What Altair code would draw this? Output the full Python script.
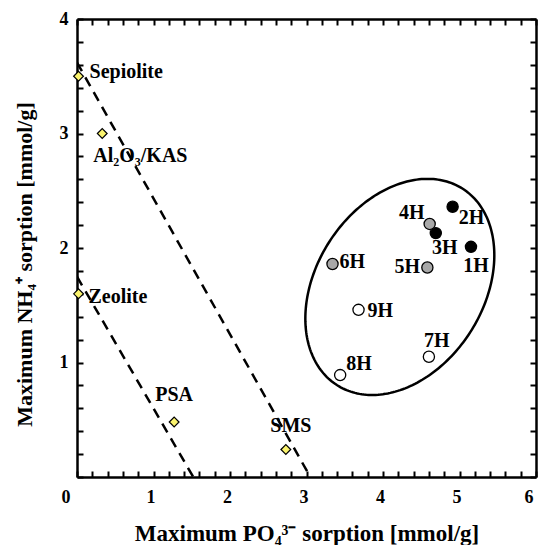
import altair as alt
import pandas as pd
import numpy as np

# ---- data ----
ref_names = ["Sepiolite", "Al₂O₃/KAS", "Zeolite", "PSA", "SMS"]
ref_po4 = [0.02, 0.33, 0.02, 1.27, 2.73]
ref_nh4 = [3.5, 3.0, 1.6, 0.48, 0.24]

h_names = ["1H", "2H", "3H", "4H", "5H", "6H", "7H", "8H", "9H"]
h_po4 = [5.15, 4.91, 4.69, 4.61, 4.58, 3.34, 4.60, 3.44, 3.68]
h_nh4 = [2.01, 2.36, 2.13, 2.21, 1.83, 1.86, 1.05, 0.89, 1.46]
h_group = ["black", "black", "black", "gray", "gray", "gray", "white", "white", "white"]

line_id = ["outer", "outer", "inner", "inner"]
line_po4 = [0.0, 3.05, 0.0, 1.52]
line_nh4 = [3.62, 0.0, 1.75, 0.0]

# ellipse outline: centre and two semi-axis vectors (data units)
ell_center = (4.22, 1.66)
ell_axis1 = (0.823, 0.857)
ell_axis2 = (-0.921, 0.395)

x_ticks = [round(0.2 * i, 1) for i in range(31)]
y_ticks = [round(0.2 * i, 1) for i in range(21)]

W, H = 459, 458

# ---- tables ----
ref_df = pd.DataFrame({"name": ref_names, "po4": ref_po4, "nh4": ref_nh4})
h_df = pd.DataFrame({"name": h_names, "po4": h_po4, "nh4": h_nh4, "group": h_group})
lines_df = pd.DataFrame({"id": line_id, "po4": line_po4, "nh4": line_nh4})
t = np.linspace(0, 2 * np.pi, 241)
ell_df = pd.DataFrame({
    "t": np.arange(len(t)),
    "po4": ell_center[0] + np.cos(t) * ell_axis1[0] + np.sin(t) * ell_axis2[0],
    "nh4": ell_center[1] + np.cos(t) * ell_axis1[1] + np.sin(t) * ell_axis2[1],
})
labels_df = pd.concat([ref_df[["name", "po4", "nh4"]], h_df[["name", "po4", "nh4"]]])

FONT = "Liberation Serif"
xscale = alt.Scale(domain=[0, 6], nice=False, zero=False)
yscale = alt.Scale(domain=[0, 4], nice=False, zero=False)

major = "abs(datum.value - round(datum.value)) < 0.01"

line_style = dict(grid=False, domainColor="black", domainWidth=2.5,
                  ticks=True, tickColor="black", tickWidth=2, tickSize={"expr": "-6"})
text_style = dict(
    labelFont=FONT, labelFontWeight="bold", labelFontSize=18, labelColor="black",
    titleFont=FONT, titleFontWeight="bold", titleColor="black",
)

x_bottom = alt.Axis(
    orient="bottom", values=x_ticks,
    labelExpr=f"{major} ? format(datum.value, 'd') : ''",
    labelOffset={"expr": "datum.value == 0 ? -16 : -3"},
    labelPadding=26, labelBaseline="middle",
    title="Maximum PO₄³⁻ sorption [mmol/g]", titlePadding=16, titleFontSize=23,
    **line_style, **text_style,
)
y_left = alt.Axis(
    orient="left", values=y_ticks,
    labelExpr=f"({major}) && datum.value > 0 ? format(datum.value, 'd') : ''",
    labelPadding=15,
    title="Maximum NH₄⁺ sorption [mmol/g]", titlePadding=23, titleY=245,
    titleFontSize=22,
    **line_style, **text_style,
)
x_top = alt.Axis(orient="top", values=x_ticks, labels=False, title=None, **line_style)
y_right = alt.Axis(orient="right", values=y_ticks, labels=False, title=None, **line_style)

frame_a = alt.Chart(ref_df).mark_point(opacity=0).encode(
    x=alt.X("po4:Q", scale=xscale, axis=x_bottom),
    y=alt.Y("nh4:Q", scale=yscale, axis=y_left),
)
frame_b = alt.Chart(ref_df).mark_point(opacity=0).encode(
    x=alt.X("po4:Q", scale=xscale, axis=x_top),
    y=alt.Y("nh4:Q", scale=yscale, axis=y_right),
)

ellipse = alt.Chart(ell_df).mark_line(color="black", strokeWidth=2.5).encode(
    x=alt.X("po4:Q", scale=xscale, axis=None),
    y=alt.Y("nh4:Q", scale=yscale, axis=None),
    order="t:Q",
)

dashed = alt.Chart(lines_df).mark_line(
    color="black", strokeWidth=2.5, strokeDash=[10, 7], clip=True
).encode(
    x=alt.X("po4:Q", scale=xscale, axis=None),
    y=alt.Y("nh4:Q", scale=yscale, axis=None),
    detail="id:N",
)

diamonds = alt.Chart(ref_df).mark_point(
    shape="diamond", filled=True, fill="#fbf46e", stroke="black",
    strokeWidth=1.2, size=95, opacity=1
).encode(
    x=alt.X("po4:Q", scale=xscale, axis=None),
    y=alt.Y("nh4:Q", scale=yscale, axis=None),
)

circles = alt.Chart(h_df).mark_point(
    shape="circle", filled=True, stroke="black", strokeWidth=1.3, size=125, opacity=1
).encode(
    x=alt.X("po4:Q", scale=xscale, axis=None),
    y=alt.Y("nh4:Q", scale=yscale, axis=None),
    fill=alt.Fill("group:N", scale=alt.Scale(
        domain=["black", "gray", "white"], range=["#000000", "#a8a8a8", "#ffffff"]),
        legend=None),
)

label_style = {
    "Sepiolite": ("left", 11, -4),
    "Al₂O₃/KAS": ("left", -9, 22),
    "Zeolite": ("left", 10, 3),
    "PSA": ("center", 0, -27),
    "SMS": ("center", 5, -24),
    "1H": ("center", 5, 19),
    "2H": ("center", 19, 11),
    "3H": ("center", 9, 15),
    "4H": ("center", -18, -11),
    "5H": ("center", -20, 0),
    "6H": ("left", 7, -2),
    "7H": ("center", 8, -16),
    "8H": ("left", 6, -11),
    "9H": ("left", 9, 1),
}

text_layers = []
for name, (align, dx, dy) in label_style.items():
    text_layers.append(
        alt.Chart(labels_df).transform_filter(alt.datum.name == name).mark_text(
            align=align, baseline="middle", dx=dx, dy=dy,
            font=FONT, fontWeight="bold", fontSize=20, color="black",
        ).encode(
            x=alt.X("po4:Q", scale=xscale, axis=None),
            y=alt.Y("nh4:Q", scale=yscale, axis=None),
            text="name:N",
        )
    )

chart = alt.layer(
    frame_a, frame_b, ellipse, dashed, diamonds, circles, *text_layers
).resolve_axis(
    x="independent", y="independent"
).properties(
    width=W, height=H,
    autosize=alt.AutoSizeParams(type="none"),
    padding={"left": 77, "top": 19, "right": 2, "bottom": 68},
    background="white",
).configure_view(stroke=None)

chart.save("out.html", embed_options={"renderer": "svg", "actions": False})
